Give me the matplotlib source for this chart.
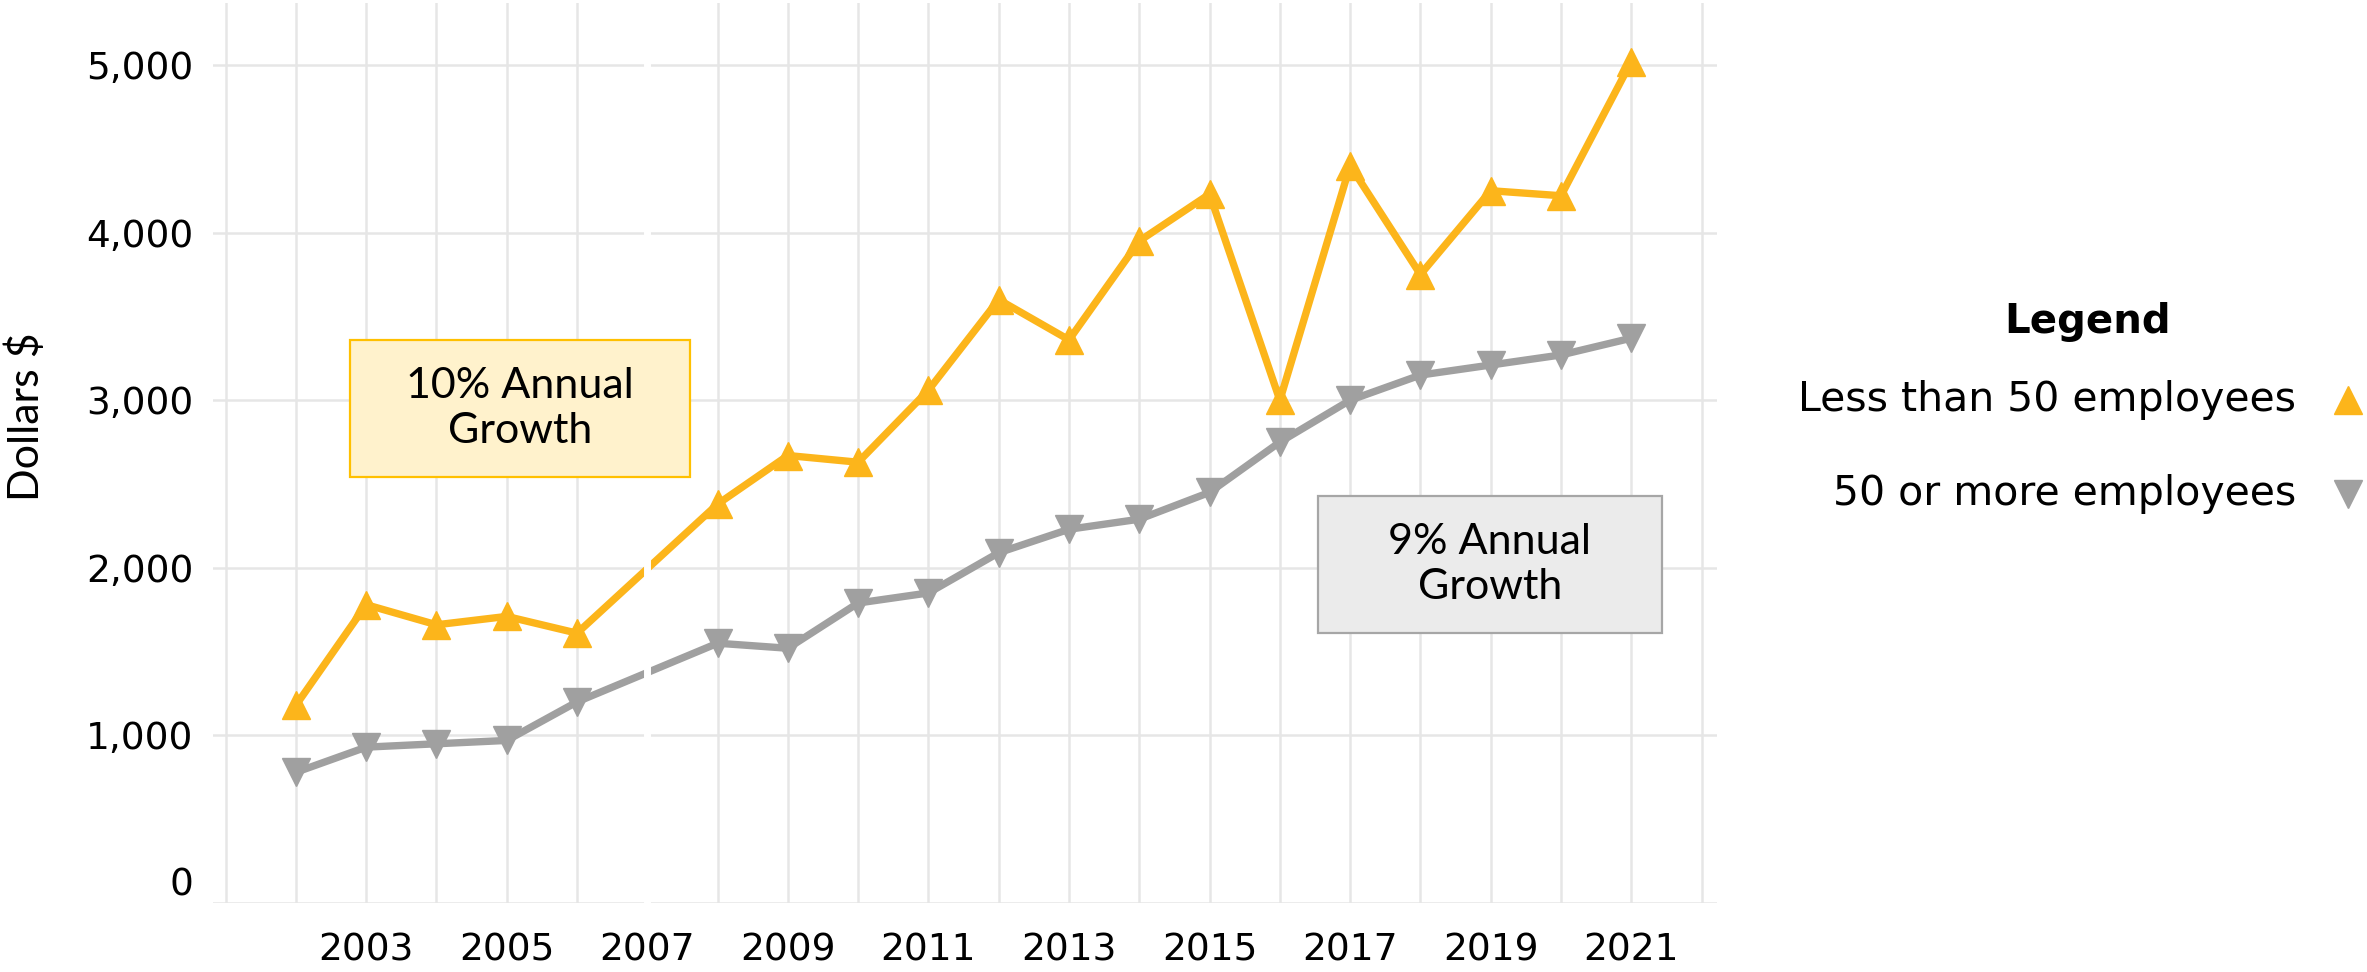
import matplotlib
matplotlib.use("Agg")
import matplotlib.pyplot as plt
from matplotlib.patches import Rectangle
from matplotlib.lines import Line2D
from matplotlib.ticker import FuncFormatter
from matplotlib.transforms import ScaledTranslation

# data (2007 not reported)
years = [2002, 2003, 2004, 2005, 2006, 2008, 2009, 2010, 2011, 2012,
         2013, 2014, 2015, 2016, 2017, 2018, 2019, 2020, 2021]
small_firms = [1180, 1780, 1660, 1710, 1610, 2380, 2670, 2630, 3060, 3600,
               3360, 3950, 4230, 3000, 4400, 3750, 4250, 4220, 5020]
large_firms = [780, 930, 950, 970, 1200, 1550, 1520, 1790, 1850, 2090,
               2230, 2290, 2450, 2750, 3000, 3150, 3210, 3270, 3370]
labels = ["Less than 50 employees", "50 or more employees"]
year_ticks = list(range(2003, 2022, 2))
value_ticks = [0, 1000, 2000, 3000, 4000, 5000]

orange = "#FCB51B"
gray = "#A0A0A0"
grid_c = "#E6E6E6"

W, H = 2367, 972
fig = plt.figure(figsize=(W / 100, H / 100), dpi=100)
ax = fig.add_axes([213 / W, 1 - 903 / H, (1717 - 213) / W, (903 - 3) / H])

ax.plot(years, small_firms, color=orange, lw=5.3, marker="^", ms=20, zorder=3)
ax.plot(years, large_firms, color=gray, lw=5.3, marker="v", ms=20, zorder=3)

# white break where 2007 is missing
ax.axvline(2007, color="white", lw=5, zorder=4)

ax.set_xlim(2000.82, 2022.22)
ax.set_ylim(0, 5370)
ax.set_xticks(year_ticks)
ax.set_xticks(range(2001, 2023), minor=True)
ax.set_yticks(value_ticks)
ax.yaxis.set_major_formatter(FuncFormatter(lambda v, p: f"{int(v):,}"))
ax.grid(True, which="both", color=grid_c, lw=1.8, zorder=0)
ax.set_axisbelow(True)
for s in ax.spines.values():
    s.set_visible(False)
ax.tick_params(which="both", length=0)
ax.tick_params(axis="x", labelsize=27, pad=21)
ax.tick_params(axis="y", labelsize=27, pad=14)

# the "0" label sits a little above its gridline in the original
zero_lab = ax.yaxis.get_major_ticks()[0].label1
zero_lab.set_transform(zero_lab.get_transform() + ScaledTranslation(0, 0.22, fig.dpi_scale_trans))

fig.text(26 / W, 1 - 417 / H, "Dollars $", rotation=90, ha="center", va="center",
         fontsize=31, family=["Lato", "DejaVu Sans"])

# annotation boxes
def note_box(x0, y0, x1, y1, face, edge, txt):
    fig.patches.append(Rectangle((x0 / W, 1 - y1 / H), (x1 - x0) / W, (y1 - y0) / H,
                                 transform=fig.transFigure, facecolor=face,
                                 edgecolor=edge, lw=1.6, zorder=5))
    fig.text((x0 + x1) / 2 / W, 1 - (y0 + y1) / 2 / H, txt, ha="center", va="center",
             fontsize=31, family=["Lato", "DejaVu Sans"], linespacing=1.25, zorder=6)

note_box(350, 340, 690, 477, "#FFF2CC", "#FFC000", "10% Annual\nGrowth")
note_box(1318, 496, 1662, 633, "#EBEBEB", "#A6A6A6", "9% Annual\nGrowth")

# legend
fig.text(2088 / W, 1 - 322 / H, "Legend", ha="center", va="center", fontsize=29,
         fontweight="bold")
for lab, col, mk, yy in [(labels[0], orange, "^", 400), (labels[1], gray, "v", 494)]:
    fig.text(2296 / W, 1 - yy / H, lab, ha="right", va="center", fontsize=29.5)
    fig.add_artist(Line2D([2348 / W], [1 - yy / H], transform=fig.transFigure,
                          marker=mk, ms=20, color=col, ls="none"))

fig.savefig("out.png", dpi=100)
